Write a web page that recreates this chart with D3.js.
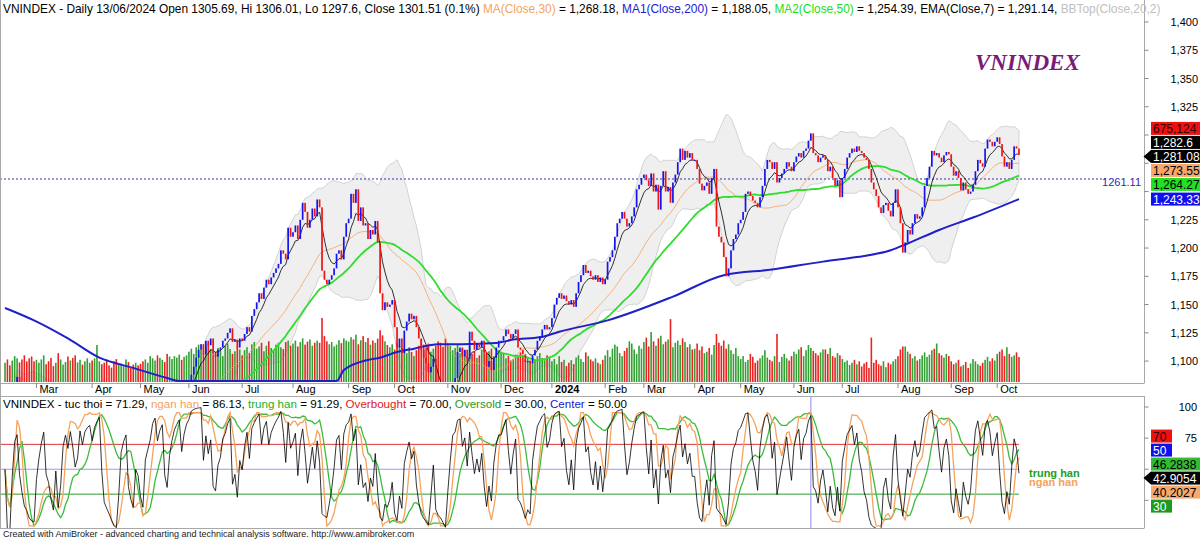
<!DOCTYPE html>
<html>
<head>
<meta charset="utf-8">
<script src="https://cdn.jsdelivr.net/npm/d3@7"></script>
<style>
body { margin: 0; background: #fff; }
svg { display: block; font-family: "Liberation Sans", Arial, sans-serif; }
</style>
</head>
<body>
<svg id="chart" width="1200" height="539"></svg>
<script>
//Daily closes, 14 Feb 2023 .. 29 Dec 2023 (one row per month)
var closes2023 = [
  1065,1058,1050,1062,1080,1086,1072,1062,1050,1045,1035,1030,1028,
  1035,1040,1045,1050,1042,1040,1035,1030,1036,1020,1025,1040,1048,1045,1055,1052,1048,1050,1060,1058,1063,1065,1066,
  1065,1068,1070,1072,1068,1062,1060,1058,1055,1050,1045,1048,1055,1058,1060,1052,1048,1045,1050,1049,
  1045,1042,1048,1050,1052,1058,1062,1060,1063,1065,1060,1058,1062,1065,1068,1070,1072,1070,1073,1076,
  1078,1088,1095,1103,1110,1115,1106,1118,1114,1120,1106,1104,1110,1112,1118,1120,1125,1129,1117,1119,1112,1120,
  1118,1124,1130,1126,1140,1146,1152,1160,1155,1165,1172,1168,1174,1178,1182,1186,1198,1195,1190,1218,1210,
  1214,1220,1208,1225,1240,1232,1218,1225,1235,1228,1243,1236,1180,1172,1168,1172,1176,1182,1195,1198,1190,1210,1222,
  1226,1248,1240,1252,1224,1236,1220,1222,1208,1216,1212,1224,1205,1160,1145,1152,1148,1150,1154,
  1130,1112,1120,1107,1127,1135,1142,1137,1140,1130,1120,1110,1103,1098,1090,1095,1102,1075,1065,1060,1050,1028,
  1040,1055,1080,1085,1108,1112,1104,1110,1102,1126,1118,1110,1116,1112,1118,1108,1095,1100,1092,1103,1112,1118,
  1118,1122,1128,1124,1120,1124,1128,1112,1110,1106,1099,1100,1098,1105,1110,1118,1122,1128,1132,1128,1130
];
//Daily closes, 2 Jan 2024 .. 14 Oct 2024
var closes2024 = [
  1138,1150,1156,1160,1155,1158,1153,1150,1154,1148,1160,1170,1176,1185,1178,1180,1175,1172,1176,1170,1174,1168,
  1172,1188,1192,1198,1210,1222,1226,1232,1226,1219,1222,1228,1236,1252,1256,1262,
  1265,1260,1255,1266,1250,1256,1234,1255,1268,1250,1254,1240,1258,1265,1276,1288,1278,1286,1280,1284,1278,
  1278,1270,1257,1251,1255,1258,1248,1262,1270,1219,1210,1205,1192,1175,1182,1198,1208,1212,1222,
  1225,1232,1248,1250,1246,1242,1240,1236,1245,1255,1270,1278,1276,1270,1276,1258,1262,1266,1270,1276,1272,1268,
  1276,1281,1284,1280,1286,1288,1295,1301.51,1284,1282,1276,1280,1282,1278,1268,1272,1262,1255,1260,1245,
  1262,1270,1280,1284,1288,1285,1290,1286,1284,1280,1278,1270,1258,1252,1246,1236,1231,1238,1240,1233,1228,1240,1252,
  1236,1222,1196,1205,1216,1212,1222,1230,1226,1228,1236,1255,1262,1272,1286,1282,1284,1280,1276,1282,1285,1283,
  1272,1264,1268,1262,1251,1258,1252,1248,1250,1256,1268,1278,1275,1272,1288,1296,1294,1290,1294,
  1298,1292,1281,1272,1276,1270,1278,1290,1288,1282.6
];
//Volume in thousands, same days
var volK2023 = [
  520,610,450,580,700,640,530,610,720,560,640,690,560,
  600,520,610,720,480,560,650,430,520,780,610,470,540,690,580,650,720,530,600,470,560,640,520,
  580,640,1000,560,480,520,610,450,390,560,620,470,500,430,610,540,380,470,520,450,
  490,560,610,520,700,640,580,720,650,600,540,760,690,620,700,660,740,600,680,720,
  820,900,760,940,1010,870,780,960,1020,880,740,810,920,860,700,980,1040,890,760,830,950,880,
  720,860,940,780,1020,1080,900,960,1060,830,980,1100,920,870,1010,1060,940,890,1080,1120,980,
  1040,1120,960,1080,1180,1010,1090,1150,980,1060,1120,1060,1730,1240,1100,1020,1080,960,1010,1130,1050,1180,1120,
  1090,1210,1150,1280,1020,1130,1240,1080,1190,1010,1120,1060,1170,1400,1260,1100,1000,940,1020,
  880,1050,980,920,860,780,940,810,700,860,980,1150,1010,930,1040,820,900,980,1100,1060,950,1180,
  1050,980,860,920,1010,780,900,850,700,980,760,820,650,720,880,940,760,830,900,700,780,860,
  820,760,640,700,580,620,740,680,800,720,600,660,580,530,610,700,780,650,590,720,680
];
var volK2024 = [
  560,620,480,700,540,600,430,520,590,480,660,720,620,540,800,700,610,560,640,520,480,600,
  720,860,680,900,1010,960,780,700,840,920,1100,1040,880,760,980,900,
  1080,1200,960,1350,1100,980,1180,1250,1020,1090,1150,1700,940,1060,1120,1000,1180,1080,940,1020,880,
  900,1040,860,960,780,820,920,740,1000,1300,1060,980,1120,900,1020,860,760,920,700,
  620,700,540,600,760,680,520,580,640,720,860,660,600,560,700,1300,540,680,760,640,580,700,
  820,760,880,940,700,860,1000,920,840,780,720,800,880,880,760,920,700,660,780,720,
  620,540,580,460,520,600,480,560,420,500,540,380,1200,520,600,480,440,560,400,520,480,560,620,
  700,880,960,960,820,760,640,700,580,620,720,800,680,740,860,900,1040,780,720,660,760,700,
  560,480,520,600,420,460,540,380,500,620,560,480,440,520,600,680,560,640,580,
  760,820,880,700,940,760,680,720,800,675.124
];

//Month labels and the bar where each month starts
var monthNames = ["Mar","Apr","May","Jun","Jul","Aug","Sep","Oct","Nov","Dec","2024",
                  "Feb","Mar","Apr","May","Jun","Jul","Aug","Sep","Oct"];
var monthStartBar = [13,36,56,76,98,119,142,161,183,205,226,248,264,285,304,326,346,369,391,410];

//MA(Close,200) (its history starts before the chart)
var ma200Bar = [0,12,26,39,53,67,72,100,120,134,137,140,150,155,162,169,179,189,203,210,221,229,249,276,297,317,338,352,366,373,386,400,419];
var ma200Val = [1147,1136,1120,1103,1094,1085,1080,1070,1068,1075,1082,1092,1101,1103,1108,1111,1115,1115,1116,1119,1121,1126,1136,1157,1176,1181,1188,1192,1198,1204,1216,1227,1243.33];

//Axis ticks
var priceTicks = [1100,1125,1150,1175,1200,1225,1250,1275,1300,1325,1350,1375,1400];
var oscTicks = [25,50,75,100];

//Readouts of the cursor bar (13/06/2024) and of the last bar
var cursorBar = 333;
var ohlcReadout = [1305.69, 1306.01, 1297.6, 1301.51, 0.1];
var maReadout = [1268.18, 1188.05, 1254.39, 1291.14];
var oscReadout = [71.29, 86.13, 91.29];
var oscLevels = [70, 30, 50];
var refLine = 1261.11;
var lastVolume = 675124;
var lastPrice = [1282.6, 1281.08, 1273.55, 1264.27, 1243.33];
var lastOsc = [46.2838, 42.9054, 40.2027];

///////////////////////////////////////////////////////////////////////////
/////////////////////////// Indicators ////////////////////////////////////
///////////////////////////////////////////////////////////////////////////

var closes = closes2023.concat(closes2024);
var vols = volK2023.concat(volK2024);
var bars = closes.map(function (c, i) {
  return { i: i, o: i ? closes[i - 1] : c, c: c, v: vols[i] };
});

function win(arr, i, n) { return arr.slice(Math.max(0, i - n + 1), i + 1); }
function sma(arr, n) { return arr.map(function (d, i) { return d3.mean(win(arr, i, n)); }); }
function ema(arr, n) {
  var k = 2 / (n + 1), out = [];
  arr.forEach(function (d, i) { out.push(i ? out[i - 1] + k * (d - out[i - 1]) : d); });
  return out;
}
//Wilder RSI of the closes
function rsi(arr, n) {
  var up = 0, dn = 0, out = [50];
  for (var i = 1; i < arr.length; i++) {
    var ch = arr[i] - arr[i - 1];
    var u = Math.max(ch, 0), d = Math.max(-ch, 0);
    if (i <= n) { up += u / n; dn += d / n; }
    else { up = (up * (n - 1) + u) / n; dn = (dn * (n - 1) + d) / n; }
    out.push(up + dn > 0 ? 100 * up / (up + dn) : 50);
  }
  return out;
}
//Stochastic of the closes, with a little headroom at new highs/lows
function stoch(arr, n) {
  return arr.map(function (d, i) {
    var s = win(arr, i, n), lo = d3.min(s), hi = d3.max(s);
    var pad = (hi - lo) * 0.05;
    return hi > lo ? (d - lo + pad) / (hi - lo + 2 * pad) * 100 : 50;
  });
}

var ma30 = sma(closes, 30), ma50 = sma(closes, 50), ema7 = ema(closes, 7);
var bbMid = sma(closes, 20);
var bbDev = closes.map(function (d, i) {
  var s = win(closes, i, 20), m = bbMid[i];
  return Math.sqrt(d3.mean(s, function (v) { return (v - m) * (v - m); }));
});
var tucThoi = rsi(closes, 3);
var nganHan = sma(stoch(closes, 12), 3);
var trungHan = sma(stoch(closes, 30), 5);

///////////////////////////////////////////////////////////////////////////
///////////////////////////// Scales //////////////////////////////////////
///////////////////////////////////////////////////////////////////////////

var axisX = 1144.5;
var x = d3.scaleLinear().domain([0, 470]).range([5, 5 + 470 * 2.42]);
var y = d3.scaleLinear().domain([1081.5, 1400]).range([382, 22]);
var yVol = d3.scaleLinear().domain([0, 2000]).range([382, 308]);
var yOsc = d3.scaleLinear().domain([0, 100]).range([531.5, 407]);

var svg = d3.select("#chart");
var defs = svg.append("defs");
defs.append("clipPath").attr("id", "clipMain").append("rect")
  .attr("x", 0).attr("y", 14).attr("width", axisX).attr("height", 368);
defs.append("clipPath").attr("id", "clipOsc").append("rect")
  .attr("x", 0).attr("y", 396).attr("width", axisX).attr("height", 132);

var orange = "#f5a35c", green = "#2fdc2f", blue = "#2020c8";

///////////////////////////////////////////////////////////////////////////
/////////////////////////// Price pane ////////////////////////////////////
///////////////////////////////////////////////////////////////////////////

var main = svg.append("g").attr("clip-path", "url(#clipMain)");

//Bollinger band
main.append("path")
  .datum(closes)
  .attr("d", d3.area()
    .x(function (d, i) { return x(i); })
    .y0(function (d, i) { return y(bbMid[i] - 2 * bbDev[i]); })
    .y1(function (d, i) { return y(bbMid[i] + 2 * bbDev[i]); }))
  .attr("fill", "#efefef")
  .attr("stroke", "#c9c9c9")
  .attr("stroke-width", 0.8);

//Volume
main.append("g").selectAll("rect")
  .data(bars)
  .enter().append("rect")
  .attr("x", function (d) { return x(d.i) - 0.8; })
  .attr("y", function (d) { return yVol(d.v); })
  .attr("width", 1.6)
  .attr("height", function (d) { return yVol(0) - yVol(d.v); })
  .attr("fill", function (d) { return d.c >= d.o ? "#34a034" : "#ec2222"; });

//Reference level
main.append("line")
  .attr("x1", 0).attr("x2", 1106)
  .attr("y1", y(refLine)).attr("y2", y(refLine))
  .attr("stroke", "#3434a8").attr("stroke-dasharray", "2,2").attr("stroke-width", 1);

function priceLine(vals, color, w) {
  main.append("path")
    .datum(vals)
    .attr("d", d3.line().x(function (d, i) { return x(i); }).y(function (d) { return y(d); }))
    .attr("fill", "none").attr("stroke", color).attr("stroke-width", w);
}
priceLine(ma30, orange, 0.8);
priceLine(ma50, green, 1.8);
priceLine(ema7, "#000", 0.8);

//MA200 sits below the pane for a while: AmiBroker pins it to the bottom edge
main.append("path")
  .datum(ma200Bar)
  .attr("d", d3.line()
    .curve(d3.curveMonotoneX)
    .x(function (d) { return x(d); })
    .y(function (d, i) { return Math.min(381, y(ma200Val[i])); }))
  .attr("fill", "none").attr("stroke", blue).attr("stroke-width", 2);

//Candles
main.append("g").selectAll("rect")
  .data(bars)
  .enter().append("rect")
  .attr("x", function (d) { return x(d.i) - 0.85; })
  .attr("y", function (d) { return y(Math.max(d.o, d.c)); })
  .attr("width", 1.7)
  .attr("height", function (d) { return Math.max(1, Math.abs(y(d.o) - y(d.c))); })
  .attr("fill", function (d) { return d.c >= d.o ? "#1414ee" : "#ee1414"; });

//Title
svg.append("text")
  .attr("x", 975).attr("y", 70)
  .attr("font-family", "'Liberation Serif', 'Times New Roman', serif")
  .attr("font-size", 23).attr("font-weight", "bold").attr("font-style", "italic")
  .attr("fill", "#7a1a7a")
  .text("VNINDEX");

///////////////////////////////////////////////////////////////////////////
/////////////////////////// Oscillator pane ///////////////////////////////
///////////////////////////////////////////////////////////////////////////

var osc = svg.append("g").attr("clip-path", "url(#clipOsc)");
var levelColor = ["#dd3333", "#2e9a2e", "#9a9aee"];
oscLevels.forEach(function (v, k) {
  osc.append("line")
    .attr("x1", 0).attr("x2", x(closes.length - 1))
    .attr("y1", yOsc(v)).attr("y2", yOsc(v))
    .attr("stroke", levelColor[k]).attr("stroke-width", 1);
});
osc.append("line")
  .attr("x1", x(cursorBar)).attr("x2", x(cursorBar))
  .attr("y1", 396).attr("y2", 528)
  .attr("stroke", "#8c8cf0").attr("stroke-width", 1);

function oscLine(vals, color, w) {
  osc.append("path")
    .datum(vals)
    .attr("d", d3.line().x(function (d, i) { return x(i); }).y(function (d) { return yOsc(d); }))
    .attr("fill", "none").attr("stroke", color).attr("stroke-width", w);
}
oscLine(trungHan, "#3cbc3c", 1.3);
oscLine(nganHan, orange, 1.3);
oscLine(tucThoi, "#000", 0.8);

svg.append("text").attr("x", x(closes.length - 1) + 10).attr("y", yOsc(lastOsc[2]) + 5)
  .attr("font-size", 11).attr("font-weight", "bold").attr("fill", orange).text("ngan han");
svg.append("text").attr("x", x(closes.length - 1) + 10).attr("y", yOsc(lastOsc[0]) + 3)
  .attr("font-size", 11).attr("font-weight", "bold").attr("fill", "#22a022").text("trung han");

///////////////////////////////////////////////////////////////////////////
/////////////////////////// Frames and axes ///////////////////////////////
///////////////////////////////////////////////////////////////////////////

var frame = svg.append("g").attr("stroke", "#a8a8a8").attr("stroke-width", 1);
frame.append("line").attr("x1", axisX).attr("x2", axisX).attr("y1", 0).attr("y2", 383);
frame.append("line").attr("x1", axisX).attr("x2", axisX).attr("y1", 396).attr("y2", 528);
frame.append("line").attr("x1", 0).attr("x2", axisX).attr("y1", 383.5).attr("y2", 383.5);
frame.append("line").attr("x1", 0).attr("x2", axisX).attr("y1", 396.5).attr("y2", 396.5);
frame.append("line").attr("x1", 0).attr("x2", axisX).attr("y1", 528.5).attr("y2", 528.5);
frame.append("line").attr("x1", 0.5).attr("x2", 0.5).attr("y1", 0).attr("y2", 528);

//Value boxes on the right: stacked 14px apart around the arrow box
function stackBoxes(list, anchor, yOf) {
  var pos = [], step = 14;
  pos[anchor] = yOf(list[anchor].v);
  for (var k = anchor - 1; k >= 0; k--) pos[k] = pos[k + 1] - step;
  for (var k = anchor + 1; k < list.length; k++) pos[k] = Math.max(yOf(list[k].v), pos[k - 1] + step);
  list.forEach(function (d, k) { d.cy = pos[k]; d.w = d.w || 49; });
  return list;
}
var f2 = d3.format(",.2f");
var priceBoxes = stackBoxes([
  { v: 0, t: d3.format(",")(lastVolume), bg: "#ee1111", fg: "#300000" },
  { v: lastPrice[0], t: d3.format(",")(lastPrice[0]), bg: "#000", fg: "#fff" },
  { v: lastPrice[1], t: f2(lastPrice[1]), bg: "#000", fg: "#fff", arrow: true },
  { v: lastPrice[2], t: f2(lastPrice[2]), bg: "#f7a86c", fg: "#000" },
  { v: lastPrice[3], t: f2(lastPrice[3]), bg: "#22e022", fg: "#000" },
  { v: lastPrice[4], t: f2(lastPrice[4]), bg: "#1010ee", fg: "#fff" }
], 2, y);
var oscBoxes = stackBoxes([
  { v: oscLevels[0], t: String(oscLevels[0]), bg: "#ee1111", fg: "#300000", w: 21 },
  { v: oscLevels[2], t: String(oscLevels[2]), bg: "#1010ee", fg: "#fff", w: 21 },
  { v: lastOsc[0], t: lastOsc[0].toFixed(4), bg: "#33bb33", fg: "#000" },
  { v: lastOsc[1], t: lastOsc[1].toFixed(4), bg: "#000", fg: "#fff", arrow: true },
  { v: lastOsc[2], t: lastOsc[2].toFixed(4), bg: "#f7a86c", fg: "#000" },
  { v: oscLevels[1], t: String(oscLevels[1]), bg: "#1e9a1e", fg: "#fff", w: 21 }
], 3, yOsc);

//a tick label is left out where a wide value box covers it
function covered(boxes, ty) {
  return boxes.some(function (b) { return b.w > 30 && ty > b.cy - 10 && ty < b.cy + 10; });
}

var pAxis = svg.append("g");
priceTicks.forEach(function (v) {
  pAxis.append("line").attr("x1", axisX).attr("x2", axisX + 4)
    .attr("y1", y(v)).attr("y2", y(v)).attr("stroke", "#888");
  if (covered(priceBoxes, y(v)) || y(v) < 140 && y(v) > 116) return;
  pAxis.append("text").attr("x", 1198).attr("y", y(v) + 4)
    .attr("text-anchor", "end").attr("font-size", 11).text(d3.format(",")(v));
});
oscTicks.forEach(function (v) {
  pAxis.append("line").attr("x1", axisX).attr("x2", axisX + 4)
    .attr("y1", yOsc(v)).attr("y2", yOsc(v)).attr("stroke", "#888");
  if (covered(oscBoxes, yOsc(v) - 4)) return;
  pAxis.append("text").attr("x", 1197).attr("y", yOsc(v) + 4)
    .attr("text-anchor", "end").attr("font-size", 11).text(v);
});

function drawBoxes(list) {
  list.forEach(function (d) {
    var g = svg.append("g"), x0 = 1151, cy = d.cy;
    g.append("rect").attr("x", x0).attr("y", cy - 6.5).attr("width", d.w).attr("height", 13).attr("fill", d.bg);
    if (d.arrow) {
      g.append("path").attr("d", "M" + (axisX - 1) + "," + cy + "L" + x0 + "," + (cy - 6.5) + "L" + x0 + "," + (cy + 6.5) + "Z")
        .attr("fill", d.bg);
    }
    g.append("text").attr("x", x0 + 2).attr("y", cy + 4.5)
      .attr("font-size", 12).attr("fill", d.fg).text(d.t);
  });
}
drawBoxes(priceBoxes);
drawBoxes(oscBoxes);

//Month axis
var mAxis = svg.append("g");
monthStartBar.forEach(function (b, k) {
  mAxis.append("line").attr("x1", x(b)).attr("x2", x(b))
    .attr("y1", 383).attr("y2", 388).attr("stroke", "#888");
  mAxis.append("text").attr("x", x(b) + 3).attr("y", 393)
    .attr("font-size", 11)
    .attr("font-weight", monthNames[k] === "2024" ? "bold" : "normal")
    .text(monthNames[k]);
});

//Reference level label
svg.append("text").attr("x", 1141).attr("y", y(refLine) + 7)
  .attr("text-anchor", "end").attr("font-size", 11).attr("fill", "#2a2ab0")
  .text(refLine.toFixed(2));

///////////////////////////////////////////////////////////////////////////
/////////////////////////// Header texts //////////////////////////////////
///////////////////////////////////////////////////////////////////////////

function header(yPos, size, parts) {
  var t = svg.append("text").attr("x", 3).attr("y", yPos).attr("font-size", size);
  parts.forEach(function (p) { t.append("tspan").attr("fill", p[1]).text(p[0]); });
}
header(13, 11.9, [
  ["VNINDEX - Daily 13/06/2024 Open " + ohlcReadout[0] + ", Hi " + ohlcReadout[1] + ", Lo " + ohlcReadout[2] +
   ", Close " + ohlcReadout[3] + " (" + ohlcReadout[4] + "%) ", "#000"],
  ["MA(Close,30)", orange], [" = " + f2(maReadout[0]) + ", ", "#000"],
  ["MA1(Close,200)", "#2020d0"], [" = " + f2(maReadout[1]) + ", ", "#000"],
  ["MA2(Close,50)", "#22dd22"], [" = " + f2(maReadout[2]) + ", EMA(Close,7) = " + f2(maReadout[3]) + ", ", "#000"],
  ["BBTop(Close,20,2)", "#c0c0c0"]
]);
header(408, 11.6, [
  ["VNINDEX - tuc thoi = " + oscReadout[0].toFixed(2) + ", ", "#000"],
  ["ngan han", orange], [" = " + oscReadout[1].toFixed(2) + ", ", "#000"],
  ["trung han", "#22b022"], [" = " + oscReadout[2].toFixed(2) + ", ", "#000"],
  ["Overbought", "#e02020"], [" = " + oscLevels[0].toFixed(2) + ", ", "#000"],
  ["Oversold", "#1e9a1e"], [" = " + oscLevels[1].toFixed(2) + ", ", "#000"],
  ["Center", "#1818d0"], [" = " + oscLevels[2].toFixed(2), "#000"]
]);

svg.append("text").attr("x", 3).attr("y", 537).attr("font-size", 9).attr("fill", "#222")
  .text("Created with AmiBroker - advanced charting and technical analysis software. http://www.amibroker.com");
</script>
</body>
</html>
